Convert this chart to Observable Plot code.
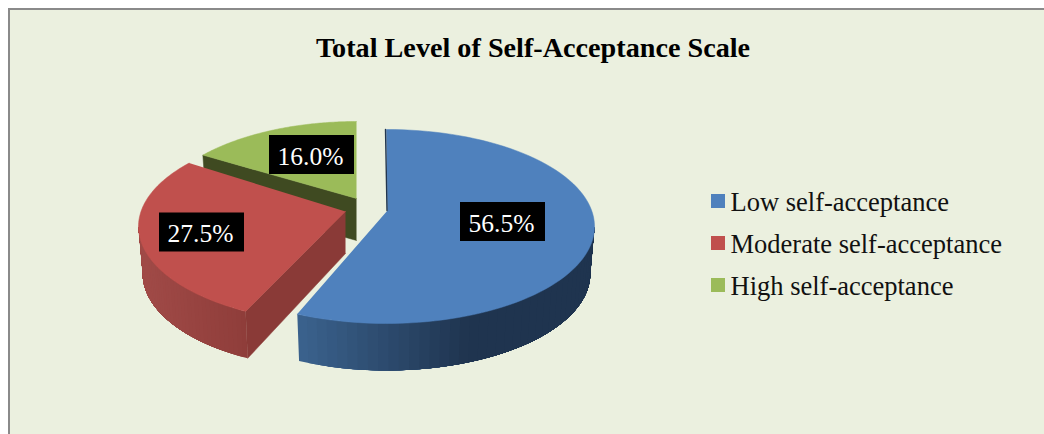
<!DOCTYPE html>
<html>
<head>
<meta charset="utf-8">
<style>html,body{margin:0;padding:0;background:#fff;overflow:hidden}svg{display:block}</style>
<script src="https://cdn.jsdelivr.net/npm/d3@7"></script>
<script src="https://cdn.jsdelivr.net/npm/@observablehq/plot@0.6"></script>
</head>
<body>
<script>
const titleText = "Total Level of Self-Acceptance Scale";
const categories = ["Low self-acceptance", "Moderate self-acceptance", "High self-acceptance"];
const shares = [56.5, 27.5, 16.0];
const topColors = ["#4f81bd", "#c0504d", "#9bbb59"];

// Presentation of the tilted, exploded pie (layout only, no values)
const W = 1044, H = 434;
const serif = "'Liberation Serif', 'Times New Roman', serif";
const rad = Math.PI / 180;
const geometry = [
  {cx: 386, cy: 226, rx: 208, ry: 97, ax: 387, ay: 210, skew0: 0,   skew1: 2,   depth: 47, apexDepth: 0},
  {cx: 346, cy: 226, rx: 208, ry: 97, ax: 345, ay: 211, skew0: 5.6, skew1: 8.4, depth: 47, apexDepth: 42},
  {cx: 356, cy: 218, rx: 203, ry: 97, ax: 356, ay: 198, skew0: 8.4, skew1: 0,   depth: 43, apexDepth: 42}
];
const labelCenters = [[502.5, 221.5], [201.5, 232], [311.5, 154.5]];
const legendRows = [210, 252, 294];

let start = 0;
const slices = shares.map((share, i) => {
  const a0 = start, a1 = start + share * 3.6;
  start = a1;
  return {...geometry[i], w0: a0 + geometry[i].skew0, w1: a1 + geometry[i].skew1};
});
const rimTop = (s, w) => ({x: s.cx + s.rx * Math.sin(w * rad), y: s.cy - s.ry * Math.cos(w * rad)});
const rimBottom = (s, w) => ({x: s.cx + s.rx * 0.98 * Math.sin(w * rad), y: s.cy + s.depth - s.ry * Math.cos(w * rad)});

function topFace(s) {
  const n = 90, pts = [{x: s.ax, y: s.ay}];
  for (let k = 0; k <= n; ++k) pts.push(rimTop(s, s.w0 + (s.w1 - s.w0) * k / n));
  return pts;
}
// Each band runs from its own angle to the far end, so later bands paint over earlier ones without seams.
function sideBands(s, wFrom, wTo, shade) {
  const rows = [], n = 40, m = 24;
  for (let k = 0; k < n; ++k) {
    const a = wFrom + (wTo - wFrom) * k / n;
    const ring = d3.range(m + 1).map(j => a + (wTo - a) * j / m);
    const color = shade(rimTop(s, a).x);
    const outline = [...ring.map(w => rimTop(s, w)), ...ring.reverse().map(w => rimBottom(s, w))];
    for (const p of outline) rows.push({...p, band: k, color});
  }
  return rows;
}
function wall(s, w) {
  const r = rimTop(s, w), q = rimBottom(s, w);
  return [{x: s.ax, y: s.ay}, r, q, {x: s.ax, y: s.ay + s.apexDepth}];
}
const [blue, red, green] = slices;

const blueShade = x => d3.interpolateRgb("#3a618c", "#1f344f")(Math.min(1, Math.max(0, (x - 298) / 165)));
const redShade = x => d3.interpolateRgb("#a04a47", "#8f3d3a")(Math.min(1, Math.max(0, (x - 143) / 105)));

const face = (pts, fill) => Plot.line(pts, {x: "x", y: "y", fill, stroke: fill, strokeWidth: 0.5});
const bands = rows => Plot.line(rows, {x: "x", y: "y", z: "band", fill: "color", stroke: "none"});

const labels = shares.map((v, i) => ({
  text: v.toFixed(1) + "%", x: labelCenters[i][0], y: labelCenters[i][1]
}));
const legend = categories.map((name, i) => ({name, y: legendRows[i], color: topColors[i]}));

const chart = Plot.plot({
  width: W, height: H,
  marginTop: 0, marginRight: 0, marginBottom: 0, marginLeft: 0,
  x: {domain: [0, W], range: [0, W], axis: null},
  y: {domain: [0, H], range: [0, H], axis: null},
  color: {type: "identity"},
  style: {background: "transparent", fontFamily: serif},
  marks: [
    // panel
    Plot.rect([{}], {x1: () => 9, x2: () => W + 10, y1: () => 9, y2: () => H + 10, fill: "#ebf0df", stroke: "#8a8a8a", strokeWidth: 2}),
    // green slice
    face(wall(green, green.w0), "#3f4a21"),
    face(topFace(green), topColors[2]),
    // red slice
    bands(sideBands(red, red.w0, 270, redShade)),
    face(wall(red, red.w0), "#8a3a37"),
    face(topFace(red), topColors[1]),
    // blue slice
    bands(sideBands(blue, blue.w1, 90, blueShade)),
    face(topFace(blue), topColors[0]),
    Plot.line([{x: blue.cx - 1, y: blue.cy - blue.ry}, {x: blue.ax - 0.5, y: blue.ay}], {x: "x", y: "y", stroke: "#22364f", strokeWidth: 1.4}),
    // data labels
    Plot.rect(labels, {x1: d => d.x - 42.5, x2: d => d.x + 42.5, y1: d => d.y - 19.5, y2: d => d.y + 19.5, fill: "#000"}),
    Plot.text(labels, {x: d => d.x - 1.5, y: d => d.y + 1.5, text: "text", fill: "#fff", fontSize: 25.5, lineAnchor: "middle", fontFamily: serif}),
    // title
    Plot.text([titleText], {x: () => 532.5, y: () => 56, text: d => d, fontSize: 28.2, fontWeight: "bold", fill: "#000", lineAnchor: "bottom", fontFamily: serif}),
    // legend
    Plot.rect(legend, {x1: () => 711, x2: () => 725, y1: d => d.y - 16, y2: d => d.y - 2, fill: "color"}),
    Plot.text(legend, {x: () => 730, y: "y", text: "name", fontSize: 26.5, fill: "#111", textAnchor: "start", lineAnchor: "bottom", fontFamily: serif})
  ]
});
document.body.appendChild(chart);
</script>
</body>
</html>
